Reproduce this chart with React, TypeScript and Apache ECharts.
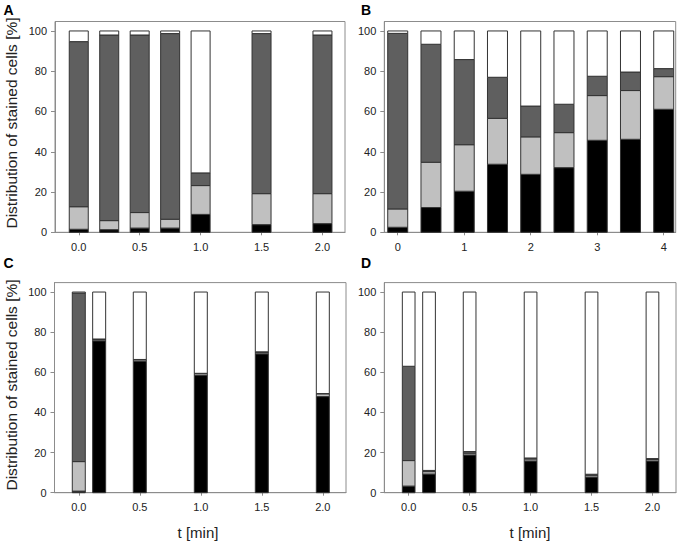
import React, { useEffect, useRef } from "react";
import * as echarts from "echarts";

// Panel A: time points [min] and segment percentages
const timesA = [0, 0.25, 0.5, 0.75, 1.0, 1.5, 2.0];
const blackA = [1.5, 1.3, 2.1, 2.1, 8.9, 3.8, 4.3];
const lightA = [11.2, 4.5, 7.7, 4.4, 14.3, 15.4, 14.9];
const darkA = [82.0, 92.2, 88.2, 92.2, 6.3, 79.5, 78.8];
const whiteA = [5.3, 2.0, 2.0, 1.3, 70.5, 1.3, 2.0];

// Panel B
const timesB = [0, 0.5, 1, 1.5, 2, 2.5, 3, 3.5, 4];
const blackB = [2.5, 12.3, 20.4, 33.8, 28.8, 32.1, 45.7, 46.2, 61.1];
const lightB = [9.1, 22.5, 23.1, 22.8, 18.6, 17.4, 22.2, 24.2, 16.2];
const darkB = [87.2, 58.6, 42.3, 20.4, 15.3, 14.1, 9.6, 9.2, 4.0];
const whiteB = [1.2, 6.6, 14.2, 23.0, 37.3, 36.4, 22.5, 20.4, 18.7];

// Panel C
const timesC = [0, 0.167, 0.5, 1.0, 1.5, 2.0];
const blackC = [0.8, 75.7, 65.4, 58.6, 69.2, 47.9];
const lightC = [14.7, 0.7, 0.8, 0.8, 0.8, 1.4];
const darkC = [84.0, 0.2, 0.2, 0.1, 0.2, 0.1];
const whiteC = [0.5, 23.4, 33.6, 40.5, 29.8, 50.6];

// Panel D
const timesD = [0, 0.167, 0.5, 1.0, 1.5, 2.0];
const blackD = [3.3, 9.3, 18.8, 15.8, 7.8, 15.8];
const lightD = [12.7, 1.2, 0.9, 1.0, 0.9, 0.8];
const darkD = [47.0, 0.6, 0.8, 0.5, 0.5, 0.4];
const whiteD = [37.0, 88.9, 79.5, 82.7, 90.8, 83.0];

const yTicks = [0, 20, 40, 60, 80, 100];
const xTicksMin = [0, 0.5, 1.0, 1.5, 2.0];
const xTicksB = [0, 1, 2, 3, 4];

const panelLetters = ["A", "B", "C", "D"];
const yTitle = "Distribution of stained cells [%]";
const xTitle = "t [min]";

const COLORS = ["#000000", "#c0c0c0", "#5f5f5f", "#ffffff"];
const FRAME = "#8c8c8c";
const TEXT = "#222222";
const FONT = "'Liberation Sans', Arial, sans-serif";

export default function App() {
  const ref = useRef<HTMLDivElement>(null);

  useEffect(() => {
    if (!ref.current) return;
    const chart = echarts.init(ref.current, null, { renderer: "svg" });

    const grids = [
      { left: 55, top: 21.5, width: 290, height: 210.8 },
      { left: 384.3, top: 21.5, width: 291.4, height: 210.8 },
      { left: 54.5, top: 282.6, width: 291.5, height: 210.1 },
      { left: 384.3, top: 282.6, width: 291.7, height: 210.1 },
    ];
    const xRanges = [
      [-0.195, 2.185],
      [-0.202, 4.18],
      [-0.199, 2.19],
      [-0.2, 2.193],
    ];
    const xTickSets = [xTicksMin, xTicksB, xTicksMin, xTicksMin];
    const barWidths = [19, 20, 13, 12.7];
    const panels = [
      { t: timesA, s: [blackA, lightA, darkA, whiteA] },
      { t: timesB, s: [blackB, lightB, darkB, whiteB] },
      { t: timesC, s: [blackC, lightC, darkC, whiteC] },
      { t: timesD, s: [blackD, lightD, darkD, whiteD] },
    ];

    const xAxis = grids.map((_, i) => ({
      type: "value",
      gridIndex: i,
      min: xRanges[i][0],
      max: xRanges[i][1],
      splitLine: { show: false },
      axisLine: { show: true, onZero: false, lineStyle: { color: FRAME, width: 1 } },
      axisTick: {
        show: true,
        customValues: xTickSets[i],
        length: 3,
        lineStyle: { color: FRAME },
      },
      axisLabel: {
        customValues: xTickSets[i],
        formatter: (v: number) => (i === 1 ? String(v) : v.toFixed(1)),
        fontSize: 11,
        fontFamily: FONT,
        color: TEXT,
        margin: 9,
      },
    }));

    const yAxis = grids.map((_, i) => ({
      type: "value",
      gridIndex: i,
      min: 0,
      max: 104.7,
      splitLine: { show: false },
      axisLine: { show: true, onZero: false, lineStyle: { color: FRAME, width: 1 } },
      axisTick: {
        show: true,
        customValues: yTicks,
        length: 4,
        lineStyle: { color: FRAME },
      },
      axisLabel: {
        customValues: yTicks,
        fontSize: 11,
        fontFamily: FONT,
        color: TEXT,
        margin: 8,
      },
    }));

    const series: any[] = [];
    panels.forEach((p, i) => {
      const base = p.t.map(() => 0);
      p.s.forEach((vals, k) => {
        const data = p.t.map((t, j) => {
          const lo = base[j];
          const hi = lo + vals[j];
          base[j] = hi;
          return [t, lo, hi];
        });
        const w = barWidths[i];
        series.push({
          type: "custom",
          xAxisIndex: i,
          yAxisIndex: i,
          data,
          encode: { x: 0, y: [1, 2] },
          silent: true,
          renderItem: (params: any, api: any) => {
            const x = api.value(0);
            const p0 = api.coord([x, api.value(1)]);
            const p1 = api.coord([x, api.value(2)]);
            return {
              type: "rect",
              shape: {
                x: p0[0] - w / 2,
                y: p1[1],
                width: w,
                height: p0[1] - p1[1],
              },
              style: { fill: COLORS[k], stroke: "#333333", lineWidth: 1 },
            };
          },
        });
      });
    });

    const letterPos = [
      [8.5, 9.5],
      [366, 9.5],
      [8.5, 262.5],
      [366, 262.5],
    ];

    const graphic: any[] = [
      ...panelLetters.map((L, i) => ({
        type: "text",
        x: letterPos[i][0],
        y: letterPos[i][1],
        style: {
          text: L,
          fontSize: 14,
          fontWeight: "bold",
          fontFamily: FONT,
          fill: "#000",
          align: "center",
          verticalAlign: "middle",
        },
      })),
      ...[123, 385].map((cy) => ({
        type: "text",
        x: 11,
        y: cy,
        rotation: Math.PI / 2,
        style: {
          text: yTitle,
          fontSize: 15.5,
          fontFamily: FONT,
          fill: TEXT,
          align: "center",
          verticalAlign: "middle",
        },
      })),
      ...[198, 530].map((cx) => ({
        type: "text",
        x: cx,
        y: 532,
        style: {
          text: xTitle,
          fontSize: 15,
          fontFamily: FONT,
          fill: TEXT,
          align: "center",
          verticalAlign: "middle",
        },
      })),
    ];

    chart.setOption({
      animation: false,
      backgroundColor: "#ffffff",
      grid: grids.map((g) => ({
        ...g,
        show: true,
        borderColor: FRAME,
        borderWidth: 1,
        backgroundColor: "transparent",
        containLabel: false,
      })),
      xAxis,
      yAxis,
      series,
      graphic,
    });

    return () => chart.dispose();
  }, []);

  return (
    <div
      ref={ref}
      style={{ position: "absolute", left: 0, top: 0, width: 680, height: 544 }}
    />
  );
}
